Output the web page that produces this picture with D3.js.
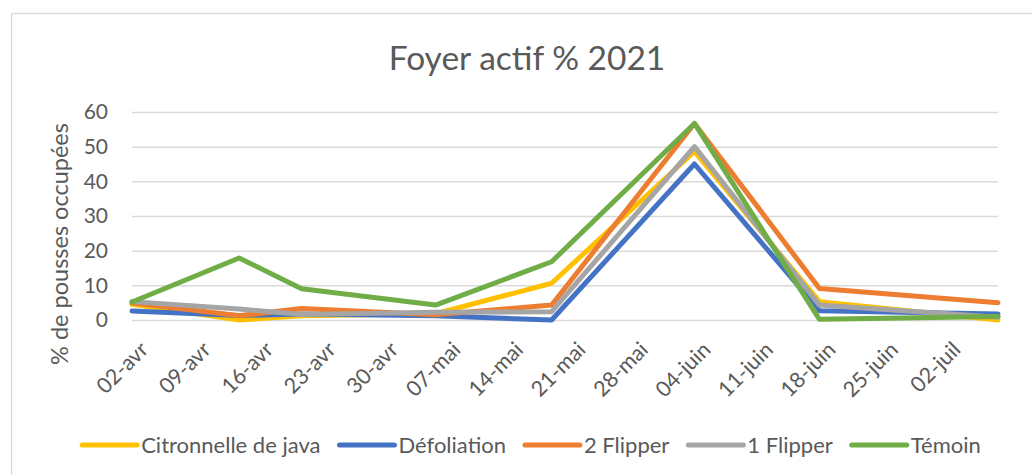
<!DOCTYPE html>
<html>
<head>
<meta charset="utf-8">
<script src="https://cdn.jsdelivr.net/npm/d3@7"></script>
<style>
  body { margin: 0; background: #fff; }
  text { font-family: Lato, "Open Sans", sans-serif; fill: #595959; }
</style>
</head>
<body>
<div id="chart"></div>
<script>
// Foyer actif % 2021 - line chart

const dates = ["2021-04-02", "2021-04-14", "2021-04-21", "2021-05-06", "2021-05-19", "2021-06-04", "2021-06-18", "2021-07-08"];
const seriesNames = ["Citronnelle de java", "Défoliation", "2 Flipper", "1 Flipper", "Témoin"];
const citronnelle = [4.5, 0, 1.2, 1.8, 10.6, 48.6, 5.3, 0];
const defoliation = [2.6, 1.3, 1.7, 1.2, 0, 45.0, 2.7, 1.7];
const flipper2 = [5.0, 1.2, 3.3, 1.5, 4.3, 56.7, 9.1, 5.0];
const flipper1 = [5.3, 3.2, 1.6, 2.2, 2.4, 50.0, 4.3, 0.8];
const temoin = [5.2, 17.9, 9.0, 4.3, 16.8, 56.7, 0.2, 1.0];
const tickLabels = ["02-avr", "09-avr", "16-avr", "23-avr", "30-avr", "07-mai", "14-mai", "21-mai", "28-mai", "04-juin", "11-juin", "18-juin", "25-juin", "02-juil"];
const yTicks = [0, 10, 20, 30, 40, 50, 60];
const colors = ["#FFC000", "#4472C4", "#ED7D31", "#A5A5A5", "#70AD47"];

const width = 1032,
    height = 475,
    margin = ({top: 112, right: 34, bottom: 155, left: 132});

const parse = d3.utcParse("%Y-%m-%d");
const days = dates.map(parse);
const allSeries = [citronnelle, defoliation, flipper2, flipper1, temoin];

let svg = d3.select("#chart")
    .append("svg")
    .attr("width", width)
    .attr("height", height)
    .attr("viewBox", [0, 0, width, height]);

// chart area border
svg.append("rect")
    .attr("x", 11.5)
    .attr("y", 13.5)
    .attr("width", 1100)
    .attr("height", 600)
    .attr("fill", "none")
    .attr("stroke", "#D9D9D9")
    .attr("stroke-width", 1.3);

const x = d3.scaleUtc()
    .domain(d3.extent(days))
    .range([margin.left, width - margin.right]);

const y = d3.scaleLinear()
    .domain([0, 60])
    .range([height - margin.bottom, margin.top]);

// gridlines + y labels
const yAxis = g => g
    .attr("transform", `translate(${margin.left},0)`)
    .call(d3.axisLeft(y).tickValues(yTicks).tickSize(-(width - margin.right - margin.left)).tickPadding(24))
    .call(g => g.select(".domain").remove())
    .call(g => g.selectAll(".tick line").attr("stroke", "#D9D9D9").attr("stroke-width", 1.5))
    .call(g => g.selectAll(".tick text").attr("font-size", 21).attr("fill", "#595959"));

svg.append("g").call(yAxis);

// x labels, weekly from the first date
const tickDates = tickLabels.map((d, i) => d3.utcDay.offset(days[0], 7 * i));
const xAxis = g => g
    .attr("transform", `translate(0,${height - margin.bottom})`)
    .call(d3.axisBottom(x).tickValues(tickDates).tickFormat((d, i) => tickLabels[i]).tickSize(0))
    .call(g => g.select(".domain").remove())
    .call(g => g.selectAll(".tick text")
        .attr("font-size", 21.5)
        .attr("fill", "#595959")
        .attr("text-anchor", "end")
        .attr("dy", 0)
        .attr("y", 0)
        .attr("transform", "translate(17,31) rotate(-45)"));

svg.append("g").call(xAxis);

// lines
const line = d3.line()
    .x((d, i) => x(days[i]))
    .y(d => y(d));

svg.append("g")
    .selectAll("path")
    .data(allSeries)
    .join("path")
    .attr("d", line)
    .attr("fill", "none")
    .attr("stroke", (d, i) => colors[i])
    .attr("stroke-width", 5)
    .attr("stroke-linejoin", "round")
    .attr("stroke-linecap", "round");

// title
svg.append("text")
    .attr("x", 527)
    .attr("y", 70)
    .attr("text-anchor", "middle")
    .attr("font-size", 33.5)
    .text("Foyer actif % 2021");

// y axis title
svg.append("text")
    .attr("transform", "translate(68,244) rotate(-90)")
    .attr("text-anchor", "middle")
    .attr("font-size", 23.5)
    .text("% de pousses occupées");

// legend
const legend = svg.append("g");
let items = legend.selectAll("g")
    .data(seriesNames)
    .join("g");

items.append("line")
    .attr("x1", 0)
    .attr("x2", 55)
    .attr("y1", 0)
    .attr("y2", 0)
    .attr("stroke", (d, i) => colors[i])
    .attr("stroke-width", 5)
    .attr("stroke-linecap", "round");

items.append("text")
    .attr("x", 59)
    .attr("y", 7.5)
    .attr("font-size", 22)
    .text(d => d);

let pos = 0;
const offsets = [];
items.each(function() {
    offsets.push(pos);
    pos += 59 + this.querySelector("text").getComputedTextLength() + 19;
});
const total = pos - 19;
items.attr("transform", (d, i) => `translate(${offsets[i]},0)`);
legend.attr("transform", `translate(${531.5 - total / 2},445)`);
</script>
</body>
</html>
